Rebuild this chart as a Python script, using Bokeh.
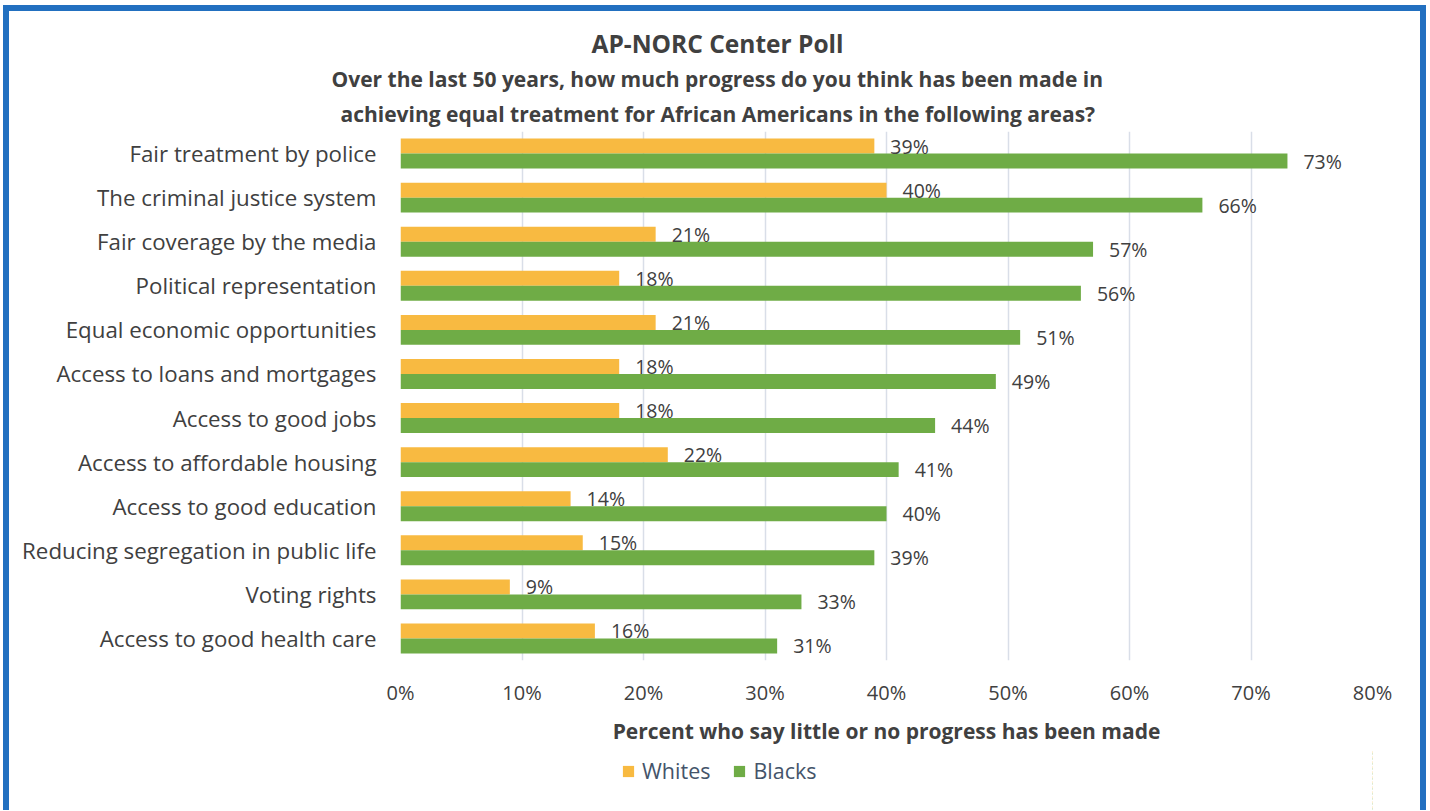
from bokeh.plotting import figure
from bokeh.models import (ColumnDataSource, FactorRange, Range1d, FixedTicker,
                          PrintfTickFormatter, Title, Legend, LegendItem)
from bokeh.layouts import column
from bokeh.transform import dodge
from bokeh.core.properties import value
from bokeh.embed import file_html
from bokeh.resources import INLINE

# ---------------- data ----------------
categories = [
    "Fair treatment by police",
    "The criminal justice system",
    "Fair coverage by the media",
    "Political representation",
    "Equal economic opportunities",
    "Access to loans and mortgages",
    "Access to good jobs",
    "Access to affordable housing",
    "Access to good education",
    "Reducing segregation in public life",
    "Voting rights",
    "Access to good health care",
]
whites = [39, 40, 21, 18, 21, 18, 18, 22, 14, 15, 9, 16]
blacks = [73, 66, 57, 56, 51, 49, 44, 41, 40, 39, 33, 31]
x_ticks = [0, 10, 20, 30, 40, 50, 60, 70, 80]
series_names = ["Whites", "Blacks"]
title_text = "AP-NORC Center Poll"
subtitle_lines = [
    "Over the last 50 years, how much progress do you think has been made in",
    "achieving equal treatment for African Americans in the following areas?",
]
x_title = "Percent who say little or no progress has been made"

# ---------------- style ----------------
FONT = "Open Sans"
ORANGE = "#F8BA41"
GREEN = "#6FAC46"
TXT = "#404040"
BORDER = "#2270C0"

source = ColumnDataSource(dict(
    cat=categories,
    whites=whites,
    blacks=blacks,
    wl=[f"{v}%" for v in whites],
    bl=[f"{v}%" for v in blacks],
))

W = 1411
HP = 739   # main chart
HL = 60    # legend strip

y_range = FactorRange(factors=categories[::-1])
p = figure(
    width=W, height=HP,
    y_range=y_range,
    x_range=Range1d(0, 80),
    output_backend="svg", toolbar_location=None,
    min_border_left=391, min_border_right=48,
    min_border_top=120, min_border_bottom=90,
)
p.title.visible = False
p.outline_line_color = None
p.background_fill_color = "white"
p.border_fill_color = "white"

OFF = 0.17
BH = 0.34
p.hbar(y=dodge("cat", OFF, range=y_range), right="whites", left=0,
       height=BH, source=source, color=ORANGE, line_color=None)
p.hbar(y=dodge("cat", -OFF, range=y_range), right="blacks", left=0,
       height=BH, source=source, color=GREEN, line_color=None)

p.text(x="whites", y=dodge("cat", OFF, range=y_range), text="wl", source=source,
       x_offset=16, text_baseline="middle", text_align="left",
       text_font=value(FONT), text_font_size="19.5px", text_color=TXT)
p.text(x="blacks", y=dodge("cat", -OFF, range=y_range), text="bl", source=source,
       x_offset=16, text_baseline="middle", text_align="left",
       text_font=value(FONT), text_font_size="19.5px", text_color=TXT)

# axes
p.xaxis.ticker = FixedTicker(ticks=x_ticks)
p.xaxis.formatter = PrintfTickFormatter(format="%d%%")
p.xaxis.axis_line_color = None
p.xaxis.major_tick_line_color = None
p.xaxis.minor_tick_line_color = None
p.xaxis.major_tick_out = 0
p.xaxis.major_label_standoff = 18
p.xaxis.major_label_text_font = FONT
p.xaxis.major_label_text_font_size = "20px"
p.xaxis.major_label_text_color = TXT
p.xaxis.axis_label = x_title
p.xaxis.axis_label_text_font = FONT
p.xaxis.axis_label_text_font_size = "21px"
p.xaxis.axis_label_text_font_style = "bold"
p.xaxis.axis_label_text_color = TXT
p.xaxis.axis_label_standoff = 8

p.yaxis.axis_line_color = None
p.yaxis.major_tick_line_color = None
p.yaxis.major_tick_out = 0
p.yaxis.major_label_standoff = 24
p.yaxis.major_label_text_font = FONT
p.yaxis.major_label_text_font_size = "22.3px"
p.yaxis.major_label_text_color = TXT

p.xgrid.grid_line_color = "#D9DEE8"
p.xgrid.grid_line_width = 1.5
p.ygrid.grid_line_color = None

# titles (stacked above the frame; first added is nearest the frame)
p.add_layout(Title(text=subtitle_lines[1], align="left", offset=-60,
                   text_font=FONT, text_font_size="21px", text_font_style="bold",
                   text_color=TXT, standoff=8), "above")
p.add_layout(Title(text=subtitle_lines[0], align="left", offset=-69,
                   text_font=FONT, text_font_size="21px", text_font_style="bold",
                   text_color=TXT, standoff=2), "above")
p.add_layout(Title(text=title_text, align="left", offset=191,
                   text_font=FONT, text_font_size="24.5px", text_font_style="bold",
                   text_color=TXT, standoff=4), "above")

# legend strip below the chart (its bars lie outside the strip's x range,
# so only the legend swatches show)
lf = figure(width=W, height=HL, x_range=Range1d(-2, -1), y_range=y_range,
            x_axis_type=None, y_axis_type=None,
            output_backend="svg", toolbar_location=None, min_border=0)
lf.title.visible = False
lf.outline_line_color = None
lf.background_fill_alpha = 0
lf.border_fill_alpha = 0
lf.xgrid.visible = False
lf.ygrid.visible = False
lg_w = lf.hbar(y=dodge("cat", OFF, range=y_range), right="whites", left=0,
               height=BH, source=source, color=ORANGE, line_color=None)
lg_b = lf.hbar(y=dodge("cat", -OFF, range=y_range), right="blacks", left=0,
               height=BH, source=source, color=GREEN, line_color=None)
legend = Legend(
    items=[LegendItem(label=series_names[0], renderers=[lg_w]),
           LegendItem(label=series_names[1], renderers=[lg_b])],
    orientation="horizontal", location=(221, 25),
    glyph_width=14, glyph_height=14, label_standoff=7, spacing=22,
    label_text_font=FONT, label_text_font_size="21.5px", label_text_color="#44546A",
    label_height=20, padding=0, margin=0,
    border_line_color=None, background_fill_alpha=0,
)
lf.add_layout(legend, "center")

layout = column(
    p, lf, spacing=0,
    styles={
        "margin-left": "3px",
        "margin-top": "5px",
        "border-top": f"6px solid {BORDER}",
        "border-left": f"6px solid {BORDER}",
        "border-right": f"6px solid {BORDER}",
        "box-sizing": "content-box",
        "background-color": "white",
    },
)

open("out.html", "w").write(file_html(layout, INLINE))
